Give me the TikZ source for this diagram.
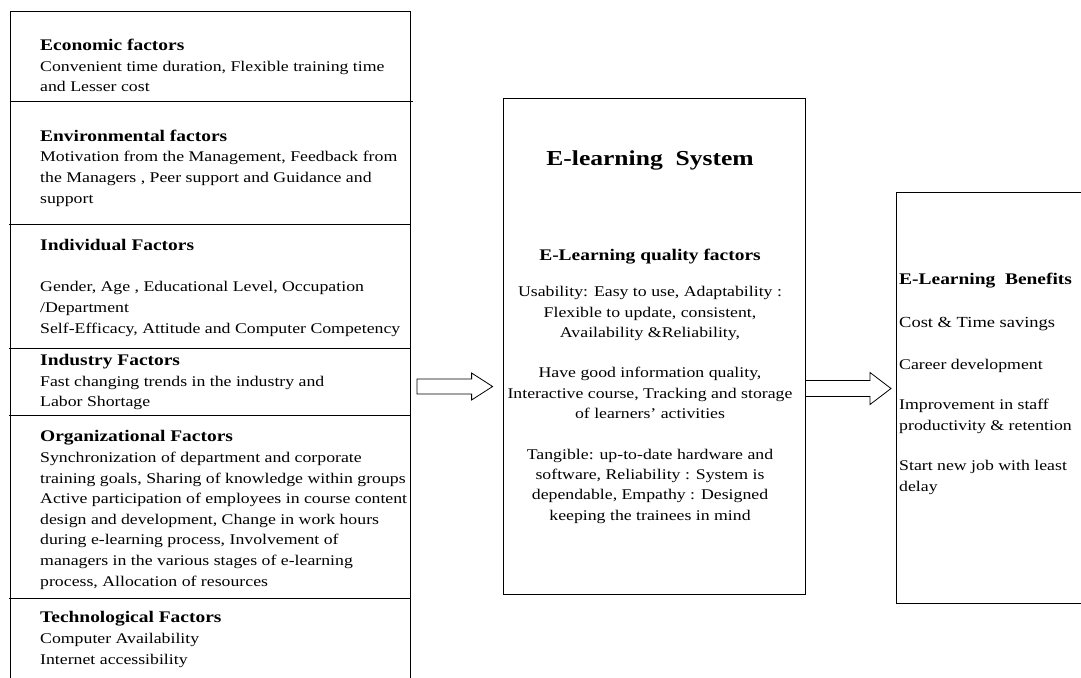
\documentclass[tikz,border=0pt]{standalone}
\usepackage{fontspec}
\setmainfont{Liberation Serif}[FakeStretch=1.2]
\usetikzlibrary{calc}

\newcommand{\bodyfont}{\fontsize{14.8}{20.6}\selectfont}
\newcommand{\headfont}{\fontsize{16.2}{20.6}\selectfont\bfseries}

\tikzset{
  box/.style={draw, line width=0.8pt, inner sep=0pt},
  factortext/.style={anchor=base west, inner sep=0pt, align=left, font=\bodyfont},
  systext/.style={anchor=base, inner sep=0pt, align=center, font=\fontsize{14.8}{20.3}\selectfont},
  blockarrow/.style={draw, fill=white, line width=0.8pt, line join=miter}
}

\begin{document}
\begin{tikzpicture}[x=1pt,y=1pt,yscale=-1,xscale=1]
\useasboundingbox (0,0) rectangle (1081,677);

%Shape: Rectangle (left column, open at the bottom)
\draw [line width=0.8pt] (10,690) -- (10,11) -- (410,11) -- (410,690) ;
%Straight Lines (dividers)
\draw [line width=0.8pt] (10,101) -- (413,101) ;
\foreach \y in {224,348,415,598}
  \draw [line width=0.8pt] (9,\y) -- (410,\y) ;

% Text Node
\node [factortext] (econ) at (40,91.7) {{\headfont Economic factors}\\Convenient time duration, Flexible training time\\and Lesser cost};
% Text Node
\node [factortext] (envir) at (40,203) {{\headfont Environmental factors}\\Motivation from the Management, Feedback from\\the Managers , Peer support and Guidance and\\support};
% Text Node
\node [factortext] (indiv) at (40,333) {{\headfont Individual Factors}\\[20.6pt]Gender, Age , Educational Level, Occupation\\/Department\\Self-Efficacy, Attitude and Computer Competency};
% Text Node
\node [factortext] (indus) at (40,406.7) {{\headfont Industry Factors}\\Fast changing trends in the industry and\\Labor Shortage};
% Text Node
\node [factortext] (organ) at (40,586) {{\headfont Organizational Factors}\\Synchronization of department and corporate\\training goals, Sharing of knowledge within groups\\Active participation of employees in course content\\design and development, Change in work hours\\during e-learning process, Involvement of\\managers in the various stages of e-learning\\process, Allocation of resources};
% Text Node
\node [factortext] (techn) at (40,664) {{\headfont Technological Factors}\\Computer Availability\\Internet accessibility};

%Shape: Rectangle (e-learning system)
\node [box, minimum width=302pt, minimum height=496pt] (sys) at (654,346) {};
% Text Node
\node [anchor=base, inner sep=0pt, font=\fontsize{21.3}{24}\selectfont\bfseries] (systitle) at (650,165) {E-learning\ \ System};
% Text Node
\node [anchor=base, inner sep=0pt, font=\headfont] (qualhead) at (650,260) {E-Learning quality factors};
% Text Node
\node [systext] (qualbody) at (650,520) {Usability: Easy to use, Adaptability :\\Flexible to update, consistent,\\Availability \&Reliability,\\[20.3pt]Have good information quality,\\Interactive course, Tracking and storage\\of learners’ activities\\[20.3pt]Tangible: up-to-date hardware and\\software, Reliability : System is\\dependable, Empathy : Designed\\keeping the trainees in mind};

%Shape: Rectangle (benefits, cut at the right)
\node [box, anchor=north west, minimum width=220pt, minimum height=411pt] (bene) at (896,192) {};
% Text Node
\node [factortext] (benetext) at (899,491) {{\headfont E-Learning\ \ Benefits}\\[22pt]{\fontsize{15.4}{20.6}\selectfont Cost \& Time savings}\\[21.5pt]Career development\\[19.5pt]Improvement in staff\\productivity \& retention\\[19.5pt]Start new job with least\\delay};

%Block Arrows
\coordinate (a1s) at (417,386.5);
\coordinate (a1t) at ($(a1s -| sys.west)+(-10,0)$);
\draw [blockarrow] ($(a1s)+(0,-7.5)$) -- ($(a1t)+(-21,-7.5)$) -- ($(a1t)+(-21,-13.5)$) -- (a1t) -- ($(a1t)+(-21,13.5)$) -- ($(a1t)+(-21,7.5)$) -- ($(a1s)+(0,7.5)$) -- cycle ;
\coordinate (a2s) at ($(sys.east)+(0,42.5)$);
\coordinate (a2t) at ($(a2s -| bene.west)+(-5,0)$);
\draw [blockarrow] ($(a2s)+(0,-8)$) -- ($(a2t)+(-21,-8)$) -- ($(a2t)+(-21,-16)$) -- (a2t) -- ($(a2t)+(-21,16)$) -- ($(a2t)+(-21,8)$) -- ($(a2s)+(0,8)$) -- cycle ;

\end{tikzpicture}
\end{document}
